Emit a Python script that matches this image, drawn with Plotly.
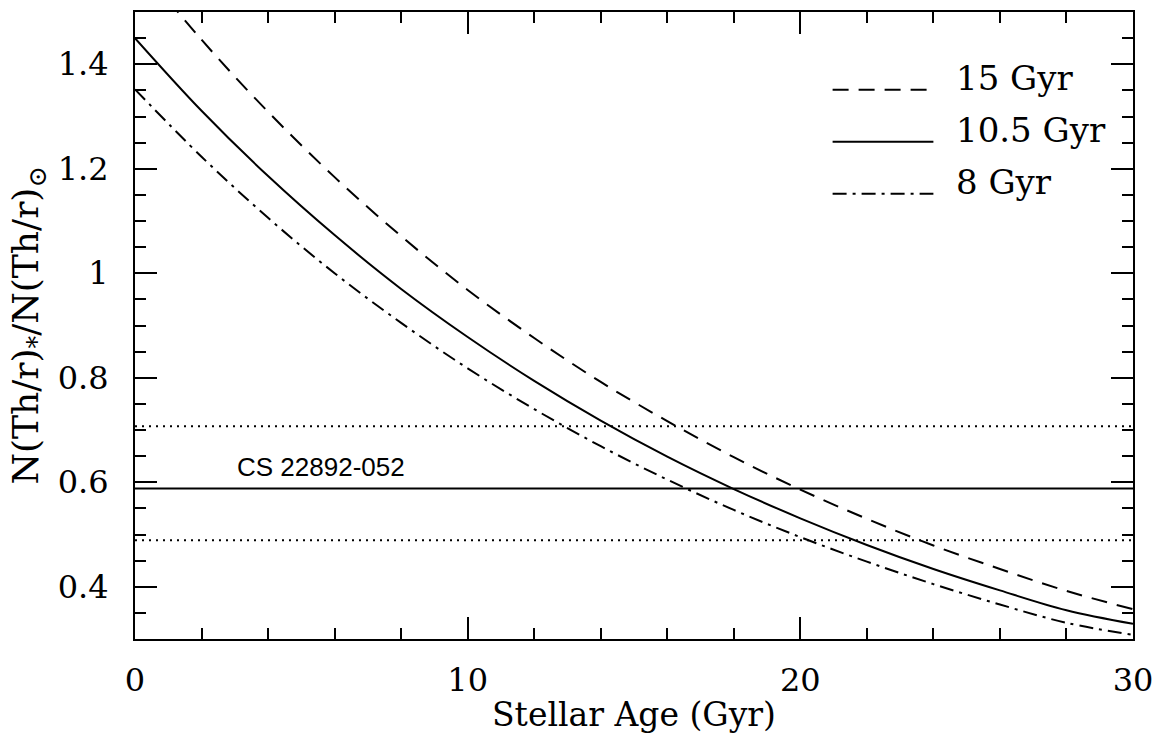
import plotly.graph_objects as go

# ---- data ----
age_gyr = [0, 2, 4, 6, 8, 10, 12, 14, 16, 18, 20, 22, 24, 26, 28, 30]
ratio_15gyr = [1.600, 1.447, 1.309, 1.184, 1.071, 0.968, 0.876, 0.792, 0.717, 0.648, 0.586, 0.530, 0.479, 0.434, 0.392, 0.357]
ratio_10p5gyr = [1.450, 1.311, 1.186, 1.073, 0.970, 0.878, 0.794, 0.718, 0.649, 0.587, 0.531, 0.480, 0.434, 0.393, 0.355, 0.329]
ratio_8gyr = [1.352, 1.223, 1.106, 1.000, 0.905, 0.818, 0.740, 0.669, 0.605, 0.547, 0.495, 0.448, 0.405, 0.366, 0.331, 0.308]
legend_labels = ["15 Gyr", "10.5 Gyr", "8 Gyr"]
star_name = "CS 22892-052"
star_ratio = 0.588
star_upper = 0.707
star_lower = 0.489
y_tickvals = [0.4, 0.6, 0.8, 1.0, 1.2, 1.4]
y_ticktext = ["0.4", "0.6", "0.8", "1", "1.2", "1.4"]
x_tickvals = [0, 10, 20, 30]
x_ticktext = ["0", "10", "20", "30"]

SERIF = "DejaVu Serif"
DASH = "16px,10px"
DASHDOT = "14px,6px,3px,6px"
DOT = "2px,5px"
LW = 2

fig = go.Figure()
series = [(ratio_15gyr, DASH), (ratio_10p5gyr, "solid"), (ratio_8gyr, DASHDOT)]
for (vals, dash), name in zip(series, legend_labels):
    fig.add_trace(go.Scatter(x=age_gyr, y=vals, mode="lines", name=name,
                             line=dict(color="black", width=LW, dash=dash, shape="spline"),
                             showlegend=False, hoverinfo="skip"))

# horizontal reference lines
fig.add_hline(y=star_ratio, line=dict(color="black", width=LW))
fig.add_hline(y=star_upper, line=dict(color="black", width=LW, dash=DOT))
fig.add_hline(y=star_lower, line=dict(color="black", width=LW, dash=DOT))
fig.add_annotation(x=5.6, y=star_ratio, text=star_name, showarrow=False,
                   yanchor="bottom", yshift=5,
                   font=dict(family="Liberation Sans", size=26, color="black"))

# manual legend
legend_rows_y = [0.876, 0.793, 0.710]
for (vals, dash), name, yy in zip(series, legend_labels, legend_rows_y):
    fig.add_shape(type="line", xref="paper", yref="paper", x0=0.699, x1=0.80, y0=yy, y1=yy,
                  line=dict(color="black", width=LW, dash=dash))
    fig.add_annotation(xref="paper", yref="paper", x=0.821, y=yy, text=name, showarrow=False,
                       xanchor="left", yanchor="bottom", yshift=-10,
                       font=dict(family=SERIF, size=34, color="black"))

axis_common = dict(showline=True, linewidth=2, linecolor="black", mirror="allticks",
                   ticks="inside", tickwidth=2, tickcolor="black", showgrid=False,
                   zeroline=False, tickfont=dict(family=SERIF, size=32, color="black"))

fig.update_xaxes(range=[0, 30], tickmode="array", tickvals=x_tickvals, ticktext=x_ticktext,
                 ticklen=22, ticklabelstandoff=12,
                 minor=dict(tickmode="linear", tick0=0, dtick=2, ticklen=11, tickwidth=2,
                            tickcolor="black", ticks="inside", showgrid=False),
                 title=dict(text="Stellar Age (Gyr)", standoff=4,
                            font=dict(family=SERIF, size=33, color="black")),
                 **axis_common)
fig.update_yaxes(range=[0.3, 1.5], tickmode="array", tickvals=y_tickvals, ticktext=y_ticktext,
                 ticklen=22, ticklabelstandoff=18,
                 minor=dict(tickmode="linear", tick0=0, dtick=0.05, ticklen=11, tickwidth=2,
                            tickcolor="black", ticks="inside", showgrid=False),
                 title=dict(text="N(Th/r)<sub>*</sub>/N(Th/r)<sub>⊙</sub>", standoff=8,
                            font=dict(family=SERIF, size=36, color="black")),
                 **axis_common)

fig.update_layout(width=1158, height=740, autosize=False,
                  margin=dict(l=135, r=25, t=12, b=101, autoexpand=False),
                  paper_bgcolor="white", plot_bgcolor="white", hovermode=False)

fig.write_html("out.html", config={"displayModeBar": False, "staticPlot": True},
               post_script="document.body.style.margin='0';document.body.style.overflow='hidden';")
